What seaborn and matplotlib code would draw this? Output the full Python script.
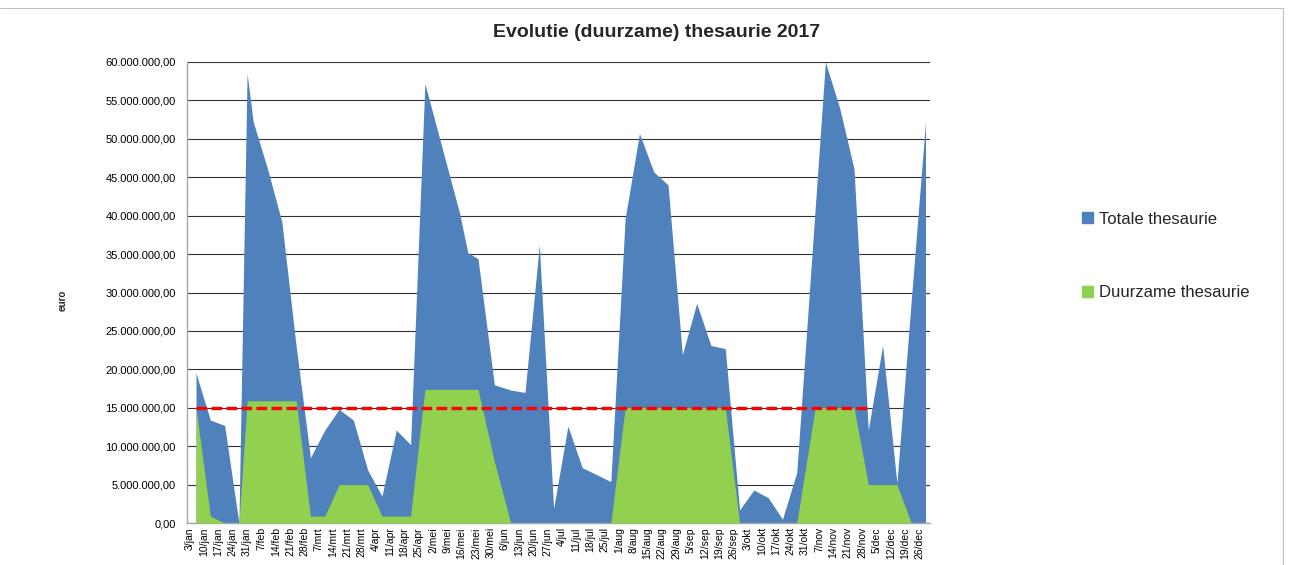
import pandas as pd
import seaborn as sns
import matplotlib.pyplot as plt
from matplotlib.lines import Line2D
from matplotlib.patches import Patch

# data (values in millions of euro)
dates = ["2017-01-06", "2017-01-13", "2017-01-20", "2017-01-27", "2017-01-31",
         "2017-02-03", "2017-02-10", "2017-02-17", "2017-02-24",
         "2017-03-03", "2017-03-10", "2017-03-17", "2017-03-24", "2017-03-31",
         "2017-04-07", "2017-04-14", "2017-04-21", "2017-04-28",
         "2017-05-15", "2017-05-19", "2017-05-24",
         "2017-06-01", "2017-06-09", "2017-06-16", "2017-06-23", "2017-06-30",
         "2017-07-07", "2017-07-14", "2017-07-21", "2017-07-28",
         "2017-08-04", "2017-08-11", "2017-08-18", "2017-08-25",
         "2017-09-01", "2017-09-08", "2017-09-15", "2017-09-22", "2017-09-29",
         "2017-10-06", "2017-10-13", "2017-10-20", "2017-10-27",
         "2017-11-05", "2017-11-10", "2017-11-17", "2017-11-24",
         "2017-12-01", "2017-12-08", "2017-12-15", "2017-12-22", "2017-12-29"]

totale = [19.5, 13.4, 12.7, 0.0, 58.5,
          52.2, 46.1, 39.2, 23.0,
          8.5, 12.1, 14.8, 13.4, 6.9,
          3.5, 12.1, 10.2, 57.2,
          40.3, 35.2, 34.4,
          18.0, 17.3, 17.0, 36.2, 1.9,
          12.6, 7.2, 6.3, 5.4,
          39.6, 50.7, 45.7, 44.0,
          21.9, 28.6, 23.1, 22.7, 1.7,
          4.3, 3.3, 0.5, 6.6,
          40.9, 60.0, 54.0, 46.1,
          12.1, 23.1, 5.2, 28.9, 52.2]

duurzame = [15.0, 0.9, 0.0, 0.0, 15.9,
            15.9, 15.9, 15.9, 15.9,
            0.9, 0.9, 5.0, 5.0, 5.0,
            0.9, 0.9, 0.9, 17.4,
            17.4, 17.4, 17.4,
            8.0, 0.0, 0.0, 0.0, 0.0,
            0.0, 0.0, 0.0, 0.0,
            15.0, 15.0, 15.0, 15.0,
            15.0, 15.0, 15.0, 15.0, 0.0,
            0.0, 0.0, 0.0, 0.0,
            15.0, 15.0, 15.0, 15.0,
            5.0, 5.0, 5.0, 0.0, 0.0]

norm_value = 15_000_000
norm_start = "2017-01-06"
norm_end = "2017-12-01"

maanden = ["jan", "feb", "mrt", "apr", "mei", "jun",
           "jul", "aug", "sep", "okt", "nov", "dec"]
first_tick = "2017-01-03"
last_tick = "2017-12-26"

BLUE = "#4F81BD"
GREEN = "#92D050"
RED = "#FF0000"

df = pd.DataFrame({
    "datum": pd.to_datetime(dates),
    "totale": [v * 1e6 for v in totale],
    "duurzame": [v * 1e6 for v in duurzame],
})

sns.set_theme(style="white")
plt.rcParams["font.family"] = ["Liberation Sans", "DejaVu Sans"]

fig = plt.figure(figsize=(12.89, 5.65), dpi=100)
ax = fig.add_axes([0.145, 0.0743, 0.5765, 0.816])

ax.fill_between(df["datum"], 0, df["totale"], color=BLUE, linewidth=0, zorder=2)
ax.fill_between(df["datum"], 0, df["duurzame"], color=GREEN, linewidth=0, zorder=3)
sns.lineplot(x=pd.to_datetime([norm_start, norm_end]), y=[norm_value, norm_value],
             color=RED, linewidth=2.4, linestyle=(0, (3.2, 1.3)), ax=ax, zorder=4)

# axes
start = pd.Timestamp(first_tick)
ax.set_xlim(start - pd.Timedelta(hours=35), start + pd.Timedelta(hours=362.2 * 24))
ax.set_ylim(0, 60_000_000)

ticks = pd.date_range(first_tick, last_tick, freq="7D")
ax.set_xticks(ticks)
ax.set_xticklabels([f"{t.day}/{maanden[t.month - 1]}" for t in ticks],
                   rotation=90, fontsize=7.5, color="black")
yt = list(range(0, 60_000_001, 5_000_000))
ax.set_yticks(yt)
ax.set_yticklabels([f"{v:,.2f}".replace(",", "X").replace(".", ",").replace("X", ".") for v in yt],
                   fontsize=8, color="black")
ax.tick_params(axis="x", length=0, pad=3)
ax.tick_params(axis="y", length=0, pad=8)

ax.set_axisbelow(True)
ax.yaxis.grid(True, color="#333333", linewidth=0.8)
ax.xaxis.grid(False)
for s in ["top", "right"]:
    ax.spines[s].set_visible(False)
for s in ["left", "bottom"]:
    ax.spines[s].set_color("#a6a6a6")
    ax.spines[s].set_linewidth(1.0)
ax.set_xlabel("")
ax.set_ylabel("")

fig.text(0.0489, 0.469, "euro", rotation=90, fontsize=7, fontweight="bold",
         ha="center", va="center")
fig.text(0.5097, 0.9416, "Evolutie (duurzame) thesaurie 2017", fontsize=14,
         fontweight="bold", ha="center", va="center")

handles = [Patch(color=BLUE, label="Totale thesaurie"),
           Patch(color=GREEN, label="Duurzame thesaurie")]
fig.legend(handles=handles, loc="center left", bbox_to_anchor=(0.828, 0.547),
           frameon=False, fontsize=12, handlelength=0.65, handleheight=0.65,
           handletextpad=0.35, labelspacing=3.5)

# chart area frame
fig.add_artist(Line2D([0, 1283 / 1289], [1 - 8 / 565, 1 - 8 / 565], color="#bfbfbf", lw=0.8))
fig.add_artist(Line2D([1283 / 1289, 1283 / 1289], [0, 1 - 8 / 565], color="#bfbfbf", lw=0.8))

fig.savefig("out.png", dpi=100)
